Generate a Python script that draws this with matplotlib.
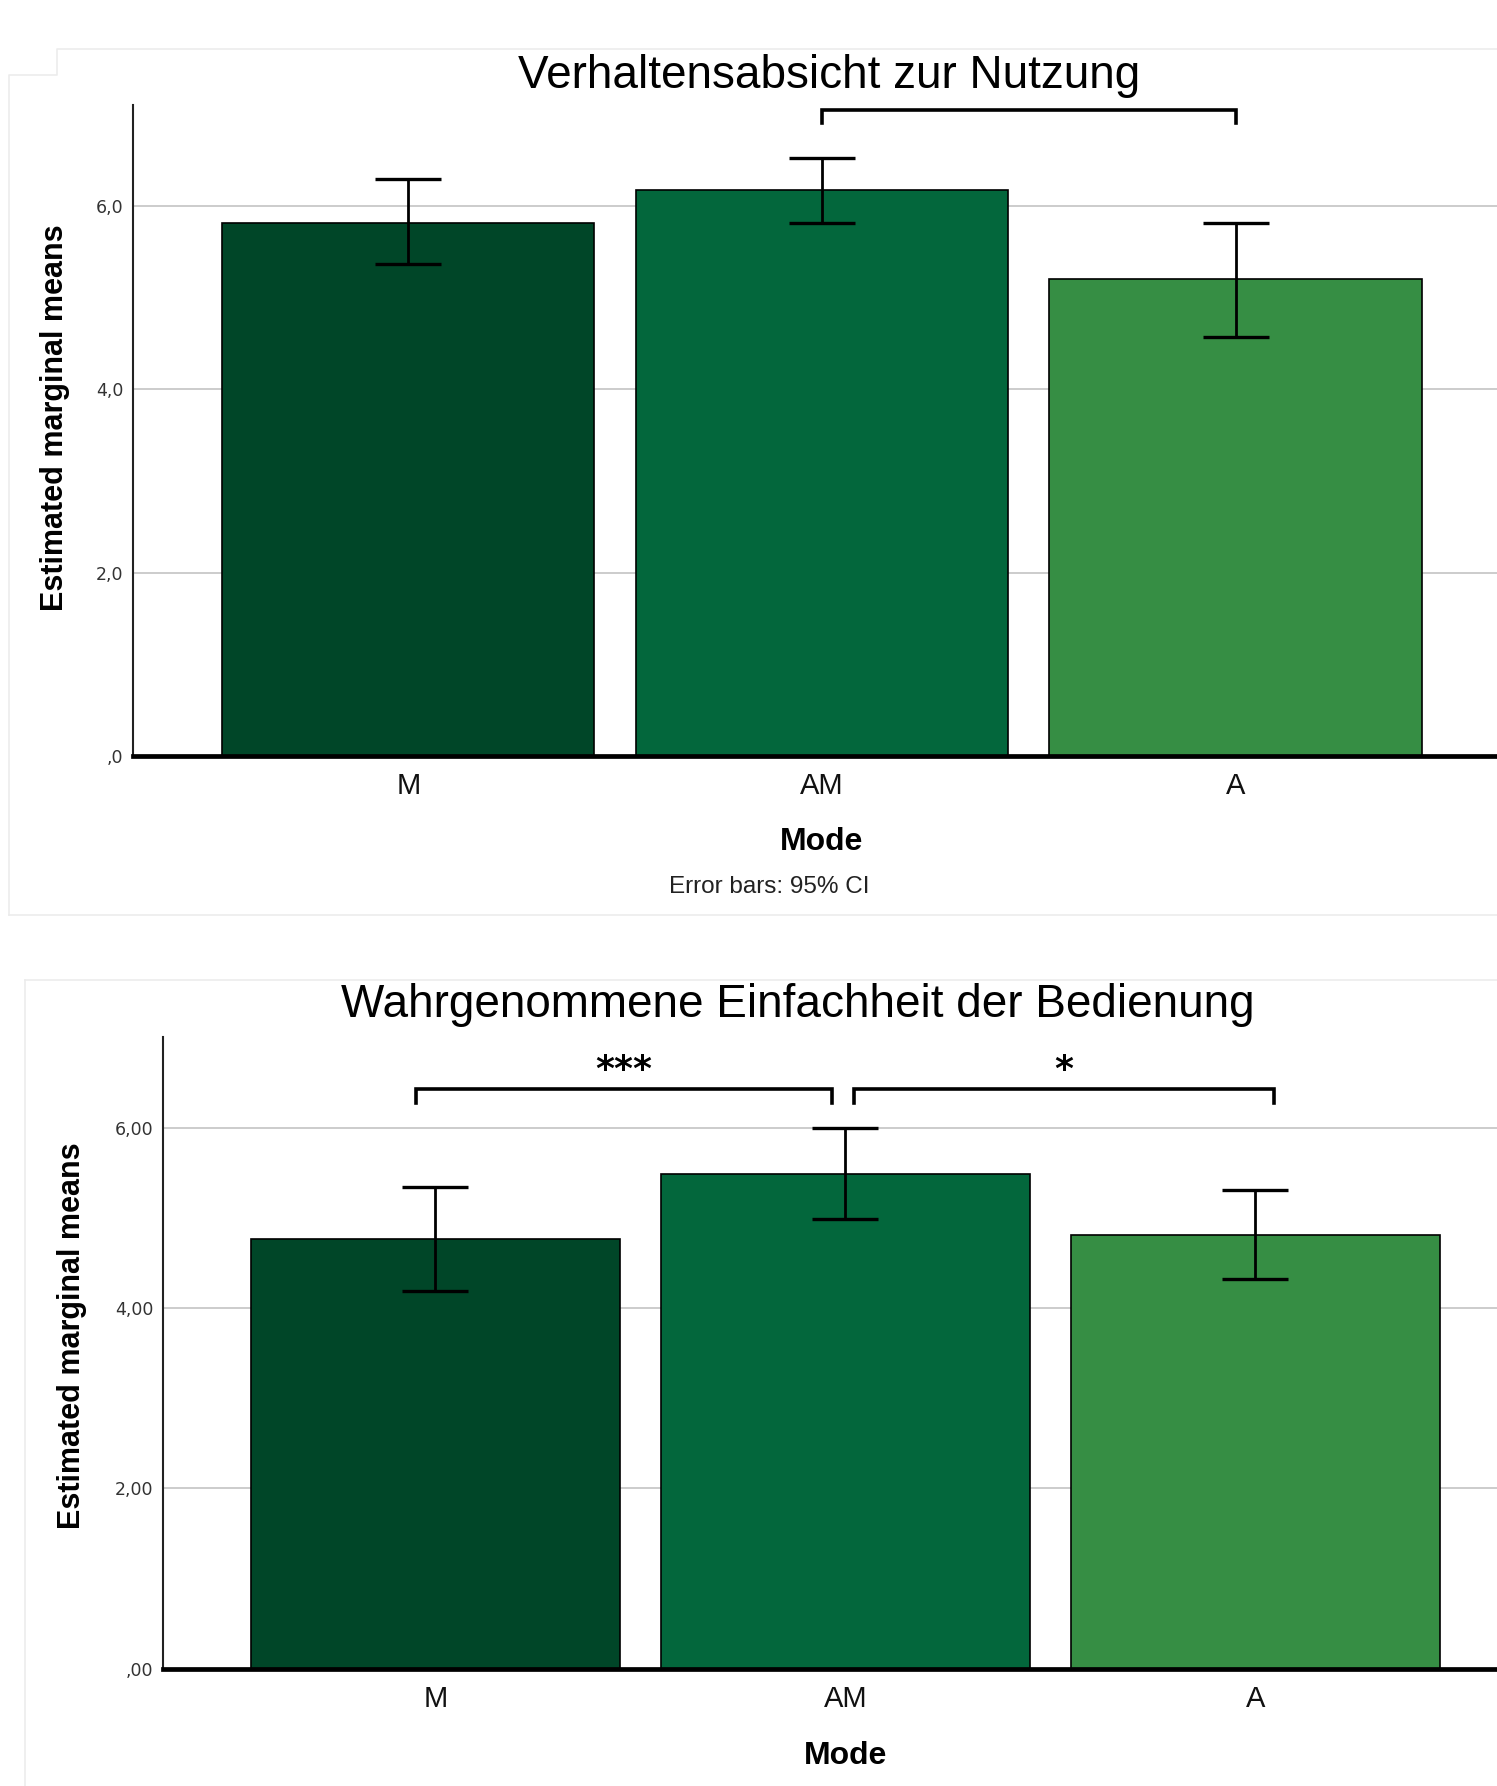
import matplotlib
matplotlib.use("Agg")
import matplotlib.pyplot as plt
from matplotlib.lines import Line2D
import numpy as np

# ---------------- data ----------------
categories = ["M", "AM", "A"]

usage_title = "Verhaltensabsicht zur Nutzung"
usage_means = [5.81, 6.17, 5.20]
usage_ci_low = [5.37, 5.81, 4.57]
usage_ci_high = [6.29, 6.52, 5.81]
usage_yticks = [0, 2, 4, 6]
usage_yticklabels = [",0", "2,0", "4,0", "6,0"]
usage_pairs = [(1, 2, "")]

ease_title = "Wahrgenommene Einfachheit der Bedienung"
ease_means = [4.77, 5.48, 4.81]
ease_ci_low = [4.19, 4.99, 4.32]
ease_ci_high = [5.34, 6.00, 5.31]
ease_yticks = [0, 2, 4, 6]
ease_yticklabels = [",00", "2,00", "4,00", "6,00"]
ease_pairs = [(0, 1, "***"), (1, 2, "*")]

bar_colors = ["#004628", "#03673C", "#368E44"]

# ---------------- style ----------------
W, H = 1314.0, 1568.0  # design grid
NARROW = ["Liberation Sans Narrow", "Liberation Sans", "DejaVu Sans"]
TICKF = ["DejaVu Sans"]


def fx(x):
    return x / W


def fy(y):
    return 1 - y / H


fig = plt.figure(figsize=(14.97, 17.86), dpi=100)
fig.patch.set_facecolor("white")

# faint panel frames
frame_c = "#ececec"
for (xs, ys) in [
    ([8, 8, 50, 50, W], [803, 66, 66, 43, 43]),
    ([8, W], [803, 803]),
    ([22, 22], [H, 860]),
    ([22, W], [860, 860]),
]:
    fig.add_artist(Line2D([fx(v) for v in xs], [fy(v) for v in ys],
                          color=frame_c, lw=1.2, transform=fig.transFigure))


def draw_panel(rect, ylim, means, lo, hi, yticks, yticklabels, title, title_pos,
               pairs, bracket_ext, bracket_y, tick_pad_x, ylabel_xy):
    left, top, right, bottom = rect
    ax = fig.add_axes([fx(left), fy(bottom), fx(right) - fx(left), fy(top) - fy(bottom)])
    x = np.arange(len(categories))
    means = np.array(means)
    err = np.vstack([means - np.array(lo), np.array(hi) - means])
    ax.bar(x, means, width=0.9, color=bar_colors, edgecolor="black", linewidth=1.2, zorder=3)
    ax.errorbar(x, means, yerr=err, fmt="none", ecolor="black", elinewidth=2.0,
                capsize=24, capthick=2.4, zorder=4)
    ax.set_xlim(-0.665, len(categories) - 1 + 0.665)
    ax.set_ylim(*ylim)
    ax.set_yticks(yticks)
    ax.set_yticklabels(yticklabels, fontfamily=TICKF, fontsize=12.5, color="#333333")
    ax.set_xticks(x)
    ax.set_xticklabels(categories, fontfamily=NARROW, fontsize=21, color="#111111")
    ax.tick_params(axis="both", length=0)
    ax.tick_params(axis="x", pad=tick_pad_x)
    ax.tick_params(axis="y", pad=7)
    ax.yaxis.grid(True, color="#c8c8c8", lw=1.3, zorder=0)
    ax.set_axisbelow(True)
    for s in ["top", "right"]:
        ax.spines[s].set_visible(False)
    ax.spines["left"].set_linewidth(1.5)
    ax.spines["left"].set_color("#222222")
    ax.spines["bottom"].set_linewidth(3.4)
    ax.spines["bottom"].set_color("black")
    ax.spines["bottom"].set_zorder(5)
    ax.set_xlabel("Mode", fontfamily=NARROW, fontsize=23, fontweight="bold", labelpad=20)
    ax.set_ylabel("Estimated marginal means", fontfamily=NARROW, fontsize=22, fontweight="bold")
    ax.yaxis.set_label_coords(*ylabel_xy)
    # significance brackets
    by, bdrop, blabel = bracket_y
    for (i, j, lab), (dx0, dx1) in zip(pairs, bracket_ext):
        x0, x1 = i + dx0, j + dx1
        ax.plot([x0, x0, x1, x1], [by - bdrop, by, by, by - bdrop], color="black",
                lw=2.6, solid_joinstyle="miter", clip_on=False, zorder=6)
        if lab:
            ax.text((x0 + x1) / 2, blabel, lab, ha="center", va="center",
                    fontfamily=["DejaVu Sans"], fontsize=26, fontweight="bold")
    fig.text(fx(title_pos[0]), fy(title_pos[1]), title, ha="center", va="baseline",
             fontfamily=NARROW, fontsize=33, color="black")
    return ax


ax1 = draw_panel((117, 92, 1326, 664), (0, 7.1), usage_means, usage_ci_low, usage_ci_high,
                 usage_yticks, usage_yticklabels, usage_title, (728, 77),
                 usage_pairs, [(0.0, 0.0)], (7.04, 0.14, 7.3), 11, (-0.046, 0.519))
fig.text(fx(675), fy(779), "Error bars: 95% CI", ha="center", va="center",
         fontfamily=NARROW, fontsize=17.5, color="#222222")

ax2 = draw_panel((143, 910, 1341, 1465), (0, 7.01), ease_means, ease_ci_low, ease_ci_high,
                 ease_yticks, ease_yticklabels, ease_title, (700, 893),
                 ease_pairs, [(-0.047, -0.033), (0.022, 0.045)], (6.43, 0.16, 6.64), 12,
                 (-0.0555, 0.526))

fig.savefig("out.png", dpi=100, facecolor="white")
